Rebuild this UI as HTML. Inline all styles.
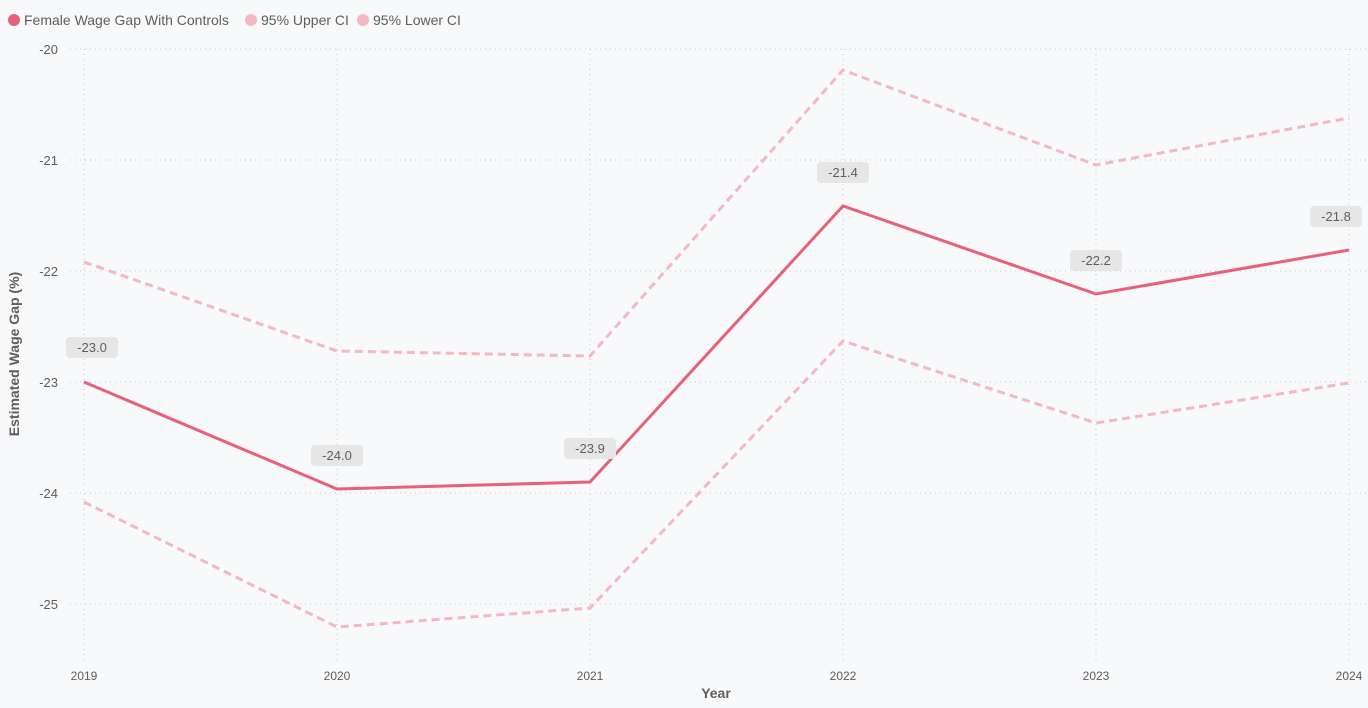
<!DOCTYPE html>
<html><head><style>
body{margin:0;background:#f8f9fb;}
svg{display:block;font-family:"Liberation Sans","DejaVu Sans",sans-serif;}
</style></head><body>
<svg width="1368" height="708" xmlns="http://www.w3.org/2000/svg">
<rect width="1368" height="708" fill="#f8f9fb"/>
<g font-size="14" fill="#605e5c">
<circle cx="14" cy="20" r="6" fill="#e8617a"/><text x="24" y="25">Female Wage Gap With Controls</text>
<circle cx="251" cy="20" r="6" fill="#f4b8c3"/><text x="261" y="25">95% Upper CI</text>
<circle cx="363" cy="20" r="6" fill="#f4b8c3"/><text x="373" y="25">95% Lower CI</text>
</g>
<g stroke="#c8c8c8" stroke-dasharray="1,4" stroke-width="1">
<line x1="70" x2="1368" y1="49" y2="49"/><line x1="70" x2="1368" y1="160" y2="160"/>
<line x1="70" x2="1368" y1="271" y2="271"/><line x1="70" x2="1368" y1="382" y2="382"/>
<line x1="70" x2="1368" y1="493" y2="493"/><line x1="70" x2="1368" y1="604" y2="604"/>
<line x1="84" x2="84" y1="49" y2="660"/><line x1="337" x2="337" y1="49" y2="660"/>
<line x1="590" x2="590" y1="49" y2="660"/><line x1="843" x2="843" y1="49" y2="660"/>
<line x1="1096" x2="1096" y1="49" y2="660"/><line x1="1349" x2="1349" y1="49" y2="660"/>
</g>
<g font-size="13" fill="#605e5c" text-anchor="end">
<text x="58" y="54">-20</text><text x="58" y="165">-21</text><text x="58" y="276">-22</text>
<text x="58" y="387">-23</text><text x="58" y="498">-24</text><text x="58" y="609">-25</text>
</g>
<g font-size="12" fill="#605e5c" text-anchor="middle">
<text x="84" y="680">2019</text><text x="337" y="680">2020</text><text x="590" y="680">2021</text>
<text x="843" y="680">2022</text><text x="1096" y="680">2023</text><text x="1349" y="680">2024</text>
</g>
<text x="716" y="698" font-size="14" font-weight="bold" fill="#605e5c" text-anchor="middle">Year</text>
<text transform="translate(19,354) rotate(-90)" font-size="14" font-weight="bold" fill="#605e5c" text-anchor="middle">Estimated Wage Gap (%)</text>
<g fill="none" stroke="#f4b8c3" stroke-width="3" stroke-dasharray="8,5">
<polyline points="84,262 337,351 590,356 843,70 1096,165 1349,118"/>
<polyline points="84,502 337,627 590,608 843,341 1096,423 1349,383"/>
</g>
<polyline fill="none" stroke="#e8617a" stroke-width="3" points="84,382 337,489 590,482 843,206 1096,294 1349,250"/>
<g font-size="13" fill="#605e5c" text-anchor="middle">
<rect x="66" y="337" width="52" height="21" rx="4" fill="#e6e6e6"/><text x="92" y="352">-23.0</text>
<rect x="311" y="445" width="52" height="21" rx="4" fill="#e6e6e6"/><text x="337" y="460">-24.0</text>
<rect x="564" y="438" width="52" height="21" rx="4" fill="#e6e6e6"/><text x="590" y="453">-23.9</text>
<rect x="817" y="162" width="52" height="21" rx="4" fill="#e6e6e6"/><text x="843" y="177">-21.4</text>
<rect x="1070" y="250" width="52" height="21" rx="4" fill="#e6e6e6"/><text x="1096" y="265">-22.2</text>
<rect x="1310" y="206" width="52" height="21" rx="4" fill="#e6e6e6"/><text x="1336" y="221">-21.8</text>
</g>
</svg>
</body></html>
